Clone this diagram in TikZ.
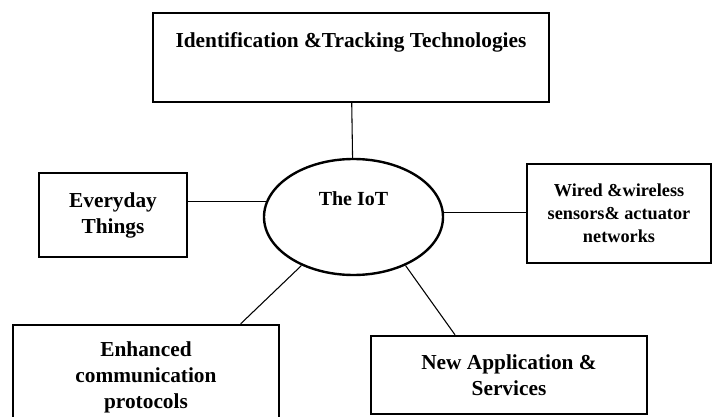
\documentclass[tikz,border=0pt]{standalone}
\usepackage{fontspec}
\setmainfont{Liberation Serif}
\usetikzlibrary{shapes.geometric}
\begin{document}
\begin{tikzpicture}[
    x=0.75pt, y=-0.75pt,
    block/.style={rectangle, draw, line width=1.8pt, align=center, inner sep=0pt,
      font=\fontsize{16}{19.5}\selectfont\bfseries},
    hub/.style={ellipse, draw, line width=1.8pt, align=center, inner sep=0pt,
      font=\fontsize{15}{18}\selectfont\bfseries},
    link/.style={line width=0.8pt}
  ]
    \useasboundingbox (0,0) rectangle (713,417);
    \clip (0,0) rectangle (713,417);

    % Centre
    \node[hub, minimum width=134.25pt, minimum height=87pt] (iot) at (353.5,217) {The IoT\\[9pt]\mbox{}};

    % Surrounding blocks
    \node[block, minimum width=297pt, minimum height=66.75pt] (idt) at (351,57.5)
      {Identification \&Tracking Technologies\\[7pt]\mbox{}};
    \node[block, minimum width=111pt, minimum height=63pt] (every) at (113,215) {Everyday\\Things};
    \node[block, minimum width=138pt, minimum height=74.25pt,
      font=\fontsize{13.7}{17.25}\selectfont\bfseries] (wired) at (619,213.5)
      {Wired \&wireless\\sensors\& actuator\\networks};
    \node[block, minimum width=199.5pt, minimum height=78.75pt] (enh) at (146,377.5)
      {Enhanced\\communication\\protocols};
    \node[block, minimum width=207pt, minimum height=58.5pt] (newapp) at (509,375)
      {New Application \&\\Services};

    % Links
    \draw[link] (idt) -- (iot);
    \draw[link] (every.east |- iot.170) -- (iot.170);
    \draw[link] (iot.3) -- (wired.west |- iot.3);
    \draw[link] (iot.223) -- ([xshift=71pt]enh.north);
    \draw[link] (iot.317) -- ([xshift=-40.5pt]newapp.north);
  \end{tikzpicture}
\end{document}
